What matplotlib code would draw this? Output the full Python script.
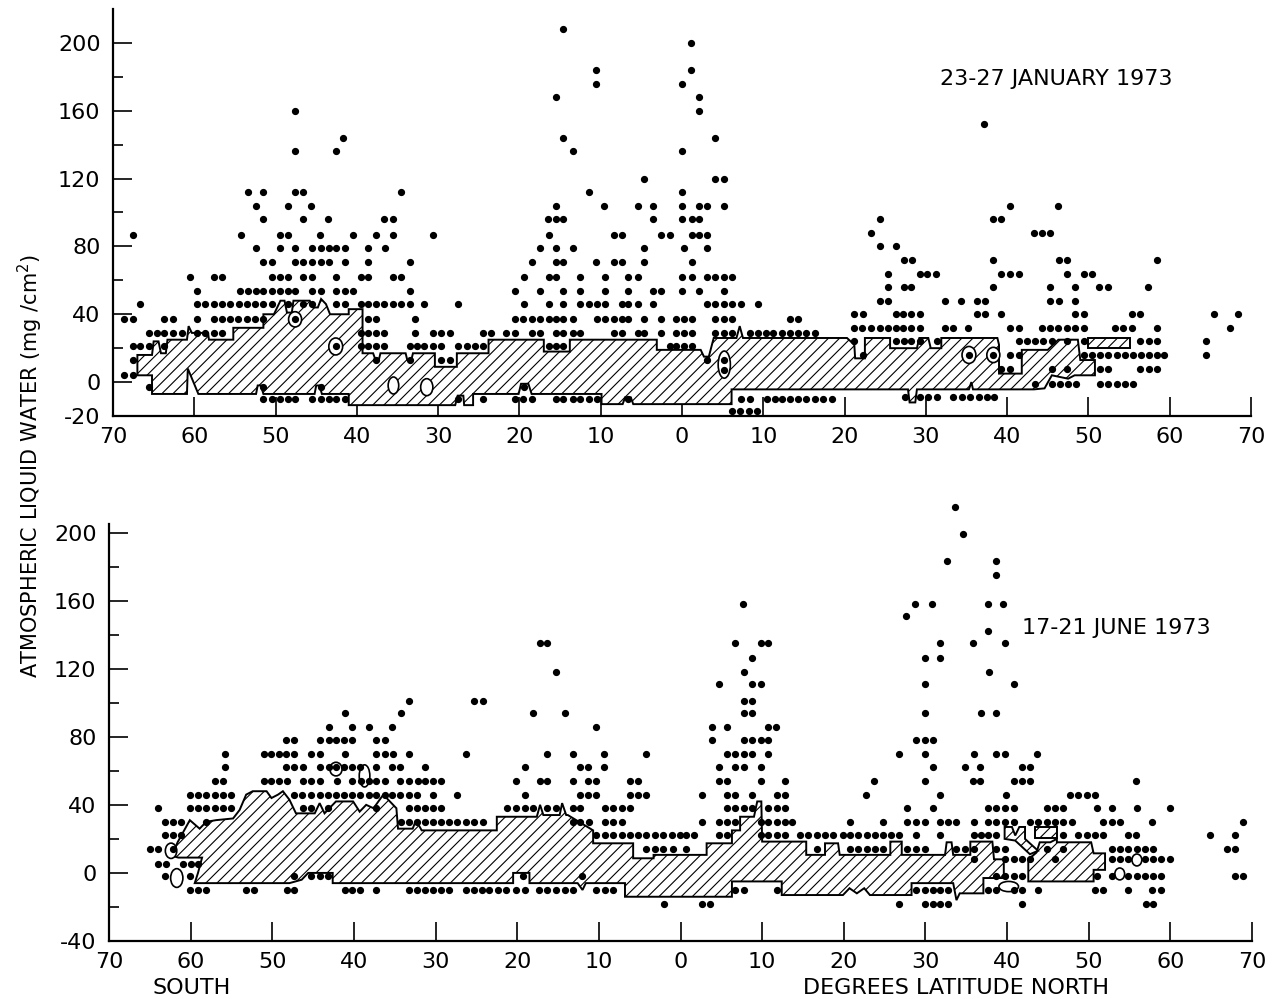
import matplotlib.pyplot as plt
from matplotlib.patches import Ellipse

plt.rcParams['font.family'] = ['DejaVu Sans']
plt.rcParams['axes.unicode_minus'] = False
plt.rcParams['hatch.linewidth'] = 0.8

# 23-27 January 1973: latitudes (south < 0) of the dots at each liquid water level (mg/cm2)
jan_rows = {
    208: [-14.7],
    200: [1.1],
    184: [-10.6, 1.1],
    176: [-10.6, 0.0],
    168: [-15.5, 2.1],
    160: [-47.6, 2.1],
    152: [37.2],
    144: [-41.7, -14.7, 4.1],
    136: [-47.6, -42.6, -13.4, 0.0],
    120: [-4.7, 4.1, 5.2],
    112: [-53.4, -51.5, -47.6, -46.6, -34.6, -11.4, 0.0],
    104: [-52.4, -48.5, -45.6, -15.5, -9.6, -5.4, -3.6, 0.0, 2.1, 3.1, 5.2, 40.3, 46.3],
    96: [-51.5, -46.6, -43.5, -36.6, -35.5, -16.5, -15.5, -14.6, -3.6, 0.0, 1.2, 2.1,
         24.3, 38.2, 39.3],
    88: [23.2, 43.3, 44.3, 45.3],
    87: [-67.6, -54.3, -49.4, -48.5, -44.5, -40.5, -37.6, -35.5, -30.6, -16.4, -8.4, -7.4,
         -2.6, -1.5, 1.2, 2.1, 3.1],
    80: [24.3, 26.3],
    79: [-52.4, -49.4, -47.6, -45.5, -44.4, -43.4, -42.6, -41.5, -38.6, -36.5, -17.5, -15.5,
         -13.4, -4.7, 0.2, 3.1],
    72: [27.3, 28.3, 38.3, 46.4, 47.4, 58.4],
    71: [-51.5, -50.5, -47.6, -46.6, -45.5, -44.4, -43.4, -41.5, -38.6, -33.5, -18.5, -15.5,
         -14.6, -10.6, -8.4, -7.4, -4.7, 1.2],
    64: [25.3, 29.3, 30.2, 31.2, 39.3, 40.3, 41.5, 47.4, 49.4, 50.5],
    62: [-60.5, -57.6, -56.6, -50.5, -49.4, -48.5, -46.6, -45.5, -42.6, -39.5, -38.6, -35.6,
         -34.6, -19.4, -16.4, -15.5, -12.5, -9.5, -6.6, -5.4, 0.0, 1.2, 3.1, 4.1, 5.2, 6.1],
    56: [25.3, 27.3, 28.2, 38.2, 45.3, 48.4, 51.3, 52.4, 57.3],
    54: [-59.7, -54.4, -53.4, -52.4, -51.5, -50.5, -49.5, -48.5, -47.6, -45.5, -44.4, -42.6,
         -41.5, -40.5, -33.5, -20.5, -17.5, -14.6, -12.5, -9.5, -6.6, -3.6, -2.6, 0.0, 2.1, 5.2],
    48: [24.3, 25.3, 32.3, 34.3, 36.3, 37.3, 45.3, 46.4, 48.4],
    46: [-66.7, -59.7, -58.7, -57.6, -56.6, -55.6, -54.5, -53.5, -52.5, -51.5, -50.5, -48.5,
         -46.6, -45.5, -42.6, -41.5, -39.5, -38.6, -37.6, -36.6, -35.6, -34.6, -33.5, -31.7,
         -27.5, -19.4, -16.4, -14.6, -12.5, -11.5, -10.5, -9.5, -7.4, -6.6, -5.4, -3.6,
         3.1, 4.1, 5.2, 6.1, 7.3, 9.4],
    40: [21.2, 22.3, 26.3, 27.2, 28.2, 29.3, 36.3, 37.3, 39.3, 48.4, 49.4, 55.3, 56.3,
         65.5, 68.4],
    37: [-68.6, -67.6, -63.7, -62.6, -59.7, -57.6, -56.6, -55.6, -54.6, -53.5, -52.5, -51.5,
         -47.6, -38.6, -37.6, -32.8, -20.5, -19.5, -18.5, -17.5, -16.4, -15.5, -14.6, -13.4,
         -10.5, -9.5, -8.4, -7.4, -6.6, -4.7, -2.6, -0.7, 0.2, 1.2, 4.1, 5.2, 6.1, 13.3, 14.3],
    32: [21.2, 22.2, 23.2, 24.3, 25.3, 26.3, 27.2, 28.2, 29.3, 32.3, 33.4, 35.2, 40.3, 41.5,
         44.3, 45.3, 46.3, 47.4, 48.4, 49.4, 53.3, 54.3, 55.3, 58.4, 67.4],
    29: [-65.6, -64.6, -63.7, -62.6, -61.5, -59.7, -58.7, -57.6, -56.6, -39.5, -38.6, -37.6,
         -36.6, -32.8, -30.6, -29.6, -28.5, -24.5, -23.5, -21.6, -20.5, -18.5, -17.5, -15.5,
         -14.6, -13.4, -12.5, -8.4, -7.4, -5.4, -4.7, -2.6, -0.7, 0.2, 1.2, 4.1, 5.2, 6.1,
         8.4, 9.4, 10.3, 11.2, 12.3, 13.3, 14.3, 15.3, 16.4],
    24: [21.2, 26.3, 27.3, 28.2, 29.3, 31.4, 41.5, 42.4, 43.4, 44.4, 45.5, 47.4, 49.4, 56.3,
         57.4, 58.4, 64.5],
    21: [-67.6, -66.7, -65.6, -63.7, -42.6, -39.5, -38.6, -37.6, -36.6, -33.5, -32.6, -31.7,
         -30.6, -29.6, -27.5, -26.5, -25.5, -24.5, -16.4, -15.5, -14.6, -1.5, -0.7, 0.2, 1.2],
    16: [22.3, 35.3, 38.3, 40.3, 41.5, 49.4, 50.4, 51.4, 52.4, 53.5, 54.5, 55.5, 56.5, 57.4,
         58.4, 59.3, 64.5],
    13: [-67.6, -37.6, -33.5, -29.6, -28.5, 3.1, 5.2],
    8: [39.3, 40.3, 45.5, 47.4, 51.4, 52.4, 56.3, 57.4, 58.4],
    7: [5.2],
    4: [-68.6, -67.6],
    -1: [43.4, 45.5, 46.5, 47.5, 48.5, 51.4, 52.4, 53.5, 54.5, 55.5],
    -3: [-65.6, -51.5, -44.4, -19.4],
    -9: [27.4, 29.3, 30.3, 31.4, 33.4, 34.4, 35.4, 36.5, 37.5, 38.4],
    -10: [-51.5, -50.5, -49.4, -48.5, -47.6, -45.5, -44.4, -43.4, -42.6, -41.5, -27.5, -24.5,
          -20.5, -19.5, -18.5, -15.5, -14.6, -13.4, -12.5, -11.5, -10.5, -6.6, 7.3, 8.4, 10.4,
          11.4, 12.3, 13.3, 14.3, 15.3, 16.4, 17.4, 18.4],
    -17: [6.1, 7.1, 8.2, 9.2],
}

# outline of the hatched median band, January (upper edge west->east, then lower edge back)
jan_band_lat = [-67.0, -67.0, -65.2, -65.0, -64.4, -64.1, -63.5, -63.3, -60.9, -60.7, -60.3,
                -58.3, -58.2, -55.2, -55.2, -51.5, -51.5, -50.2, -49.4, -48.9, -48.6, -48.0,
                -47.8, -45.8, -45.4, -44.8, -44.4, -43.8, -43.3, -41.0, -41.0, -39.3, -39.3,
                -38.0, -37.7, -37.3, -37.1, -34.0, -33.8, -33.3, -33.1, -30.4, -30.4, -27.7,
                -27.7, -23.8, -23.8, -17.0, -17.0, -13.8, -13.8, -3.1, -3.1, 2.3, 2.7, 3.3,
                3.9, 6.7, 7.1, 7.5, 20.3, 21.2, 21.3, 22.5, 22.5, 25.6, 25.6, 28.9, 29.2, 30.3,
                30.6, 31.9, 31.9, 38.8, 39.0, 39.0, 41.8, 41.8, 45.0, 46.3, 48.7, 49.0, 50.8,
                50.8,
                48.3, 47.5, 45.5, 44.6, 43.3, 35.8, 35.6, 35.3, 28.9, 28.7, 28.0, 27.8, 6.1, 6.1,
                -6.0, -6.3, -7.0, -7.3, -9.9, -9.9, -18.5, -18.9, -19.8, -20.1, -25.7, -25.7,
                -26.8, -26.9, -27.6, -27.9, -41.0, -41.0, -44.3, -44.6, -45.0, -45.2, -51.5,
                -51.8, -52.2, -52.4, -59.5, -60.8, -60.9, -65.2, -65.2]
jan_band_val = [4, 16, 16, 24, 24, 17, 17, 25, 25, 33, 29,
                29, 25, 25, 32, 32, 40, 40, 48, 48, 41, 41,
                48, 48, 44, 44, 49, 46, 40, 40, 43, 43, 17,
                17, 13, 13, 17, 17, 13, 13, 17, 17, 9, 9,
                17, 17, 25, 25, 18, 18, 25, 25, 19, 19, 15, 15,
                26, 26, 33, 26, 26, 22, 14, 14, 26, 26, 20, 20, 26, 26,
                20, 20, 26, 26, 22, 5, 5, 19, 19, 25, 25, 13, 13,
                4,
                4, 2, 4, -3.7, -4.3, -4.3, 0, -4.3, -4.3, -12, -12, -4.3, -4.3, -13,
                -13, -9, -9, -13, -13, -7, -7, -1, -1, -7, -7, -13.6,
                -13.6, -8, -8, -13.6, -13.6, -7, -7, -2, -2, -7, -7,
                -2, -2, -7, -7, 8, -7, -7, 4]
jan_box_lat = [50.0, 55.1, 55.1, 50.0]
jan_box_val = [20, 20, 26, 26]
# small open rings: centre lat, centre value, width (deg), height (mg/cm2)
jan_rings = [(-42.6, 21, 1.7, 10), (-47.6, 37, 1.6, 9), (-35.5, -2, 1.3, 10),
             (-31.4, -3, 1.5, 10), (5.2, 10.3, 1.5, 16), (35.3, 16, 1.7, 10),
             (38.3, 16, 1.6, 9)]

# 17-21 June 1973
jun_rows = {
    215: [33.6],
    199: [34.6],
    183: [32.7, 38.7],
    175: [38.7],
    158: [7.7, 28.7, 30.8, 37.7, 39.5],
    151: [27.6],
    142: [37.7],
    135: [-17.2, -16.4, 6.7, 9.8, 10.7, 31.8, 35.8, 39.7],
    126: [8.8, 29.9, 31.8],
    118: [-15.3, 7.8, 37.8],
    111: [4.7, 8.8, 9.8, 29.9, 40.8],
    101: [-33.3, -25.3, -24.2, 7.8, 8.8],
    94: [-41.1, -34.2, -18.1, -14.2, 7.8, 8.8, 29.9, 36.8, 38.7],
    86: [-43.1, -40.2, -38.2, -35.3, -10.4, 3.8, 5.7, 10.7, 11.7],
    78: [-48.3, -47.3, -44.1, -43.1, -42.2, -41.2, -40.2, -37.3, -36.2, 3.8, 7.8, 8.8, 9.8,
         10.7, 28.8, 29.9, 30.9],
    70: [-55.8, -51.0, -50.1, -49.2, -48.3, -47.3, -45.2, -44.2, -41.1, -37.3, -36.2, -35.2,
         -33.3, -26.3, -16.4, -13.2, -9.4, -4.2, 5.7, 6.7, 7.8, 8.8, 10.7, 26.8, 29.9, 35.9,
         38.7, 39.7, 43.7],
    62: [-55.8, -48.3, -47.3, -46.2, -44.2, -43.1, -42.2, -41.2, -40.2, -39.2, -37.3, -35.3,
         -34.3, -31.3, -19.0, -12.3, -11.3, -9.4, 4.7, 6.7, 7.8, 9.8, 30.9, 34.8, 36.7, 41.8,
         42.8],
    54: [-57.0, -56.0, -51.0, -50.1, -49.2, -48.2, -46.2, -45.2, -44.2, -42.1, -40.2, -39.1,
         -38.1, -37.3, -36.2, -34.3, -33.3, -32.2, -31.3, -30.3, -29.3, -20.1, -17.2, -16.3,
         -13.2, -11.3, -10.3, -6.2, -5.2, 4.7, 5.7, 9.8, 12.8, 23.7, 29.9, 35.8, 36.7, 40.8,
         41.8, 42.8, 55.8],
    46: [-60.1, -59.1, -58.1, -57.0, -56.0, -55.0, -47.3, -46.3, -45.2, -44.2, -43.2, -42.2,
         -41.2, -40.2, -39.2, -38.2, -37.3, -36.2, -35.3, -34.3, -33.3, -32.3, -30.3, -27.4,
         -19.0, -12.3, -11.3, -10.3, -6.2, -5.2, -4.2, 2.6, 5.7, 6.7, 8.8, 11.8, 12.8, 22.7,
         31.8, 39.9, 47.7, 48.7, 49.8, 50.8],
    38: [-64.0, -60.1, -59.1, -58.1, -57.0, -56.0, -55.0, -46.2, -45.2, -43.2, -37.3, -33.3,
         -32.3, -31.3, -30.3, -29.3, -21.3, -20.1, -19.1, -18.1, -16.3, -15.3, -13.2, -12.3,
         -9.3, -8.3, -7.2, -6.2, 5.7, 6.7, 7.8, 8.8, 10.7, 11.8, 12.8, 27.7, 30.9, 37.7, 38.7,
         39.7, 40.8, 44.9, 45.9, 46.9, 51.0, 52.8, 55.9, 59.9],
    30: [-63.1, -62.2, -61.2, -58.1, -34.2, -33.3, -32.3, -31.3, -30.3, -29.3, -28.3, -27.4,
         -26.3, -25.3, -24.2, -13.2, -12.3, -11.2, -9.3, -8.3, -7.2, 2.6, 4.7, 5.7, 6.7, 9.8,
         10.7, 11.8, 12.8, 13.7, 20.8, 24.8, 27.7, 28.8, 29.9, 31.8, 32.8, 33.8, 35.9, 37.7,
         38.7, 39.7, 40.8, 42.8, 43.8, 44.9, 45.9, 46.9, 47.9, 51.8, 52.8, 53.8, 57.8, 68.9],
    22: [-63.1, -62.2, -61.2, -10.3, -9.3, -8.3, -7.2, -6.2, -5.2, -4.2, -3.1, -2.1, -1.1,
         -0.1, 0.7, 1.6, 4.7, 5.7, 9.8, 10.7, 11.8, 12.8, 14.6, 15.6, 16.7, 17.7, 18.7, 19.9,
         20.8, 21.8, 22.8, 23.8, 24.8, 25.8, 26.8, 28.8, 31.8, 35.9, 36.8, 37.7, 38.7, 46.9,
         48.7, 49.8, 50.8, 51.8, 54.8, 55.8, 64.9, 67.9],
    14: [-65.0, -64.0, -62.2, -4.2, -3.1, -2.1, -0.9, 0.7, 16.7, 20.8, 21.8, 22.8, 23.8, 24.8,
         27.8, 28.8, 29.9, 33.8, 34.9, 35.9, 38.7, 39.7, 44.9, 46.9, 52.8, 53.8, 54.8, 55.9,
         56.9, 57.9, 66.9, 67.9],
    8: [35.9, 39.7, 40.8, 41.8, 42.8, 45.9, 52.8, 53.8, 54.8, 56.9, 57.9, 58.9, 59.9],
    5: [-64.0, -63.0, -60.9, -59.9, -59.1],
    -2: [-63.1, -60.1, -47.3, -45.2, -44.2, -43.2, -19.3, -12.1, 38.7, 39.7, 40.8, 41.8, 51.0,
         52.8, 54.8, 55.9, 56.9, 57.9, 58.9, 67.9, 68.9],
    -10: [-60.1, -59.1, -58.1, -53.2, -52.2, -48.2, -47.3, -41.1, -40.2, -39.2, -37.3, -33.3,
          -32.3, -31.3, -30.3, -29.3, -28.3, -26.3, -25.3, -24.3, -23.4, -22.4, -21.4, -20.2,
          -19.1, -17.3, -16.3, -15.3, -14.2, -13.2, -10.3, -9.3, -8.3, 6.7, 7.8, 11.8, 28.8,
          29.9, 30.9, 31.8, 32.8, 37.7, 38.7, 40.8, 41.8, 43.8, 50.8, 51.8, 54.8, 57.8, 58.9],
    -18: [-2.0, 2.6, 3.6, 26.8, 29.9, 30.9, 31.8, 32.8, 41.8, 57.0, 57.9],
}

jun_band_lat = [-62.3, -61.6, -60.1, -58.9, -58.1, -56.9, -54.8, -54.0, -53.2, -52.4, -50.7,
                -50.1, -49.3, -48.7, -47.9, -47.1, -44.8, -44.2, -43.6, -42.2, -40.1, -39.3,
                -38.5, -37.6, -36.4, -34.8, -34.6, -32.8, -32.4, -31.7, -22.5, -22.5, -17.6,
                -17.2, -16.8, -14.8, -14.5, -14.0, -13.8, -10.7, -10.7, -5.8, -5.8, -3.3, -3.3,
                3.2, 3.2, 6.3, 6.3, 7.3, 7.3, 9.0, 9.4, 9.9, 10.0, 15.4, 15.4, 17.7, 17.7, 19.3,
                19.5, 25.7, 25.7, 27.1, 27.1, 32.4, 32.6, 33.2, 33.4, 35.5, 35.5, 38.2, 38.4,
                39.6,
                39.6, 37.1, 37.1, 34.2, 33.8, 33.4, 28.3, 28.3, 23.2, 22.5, 21.6, 20.7, 19.9,
                12.4, 12.4, 6.3, 6.3, -6.8, -6.8, -11.6, -12.0, -12.6, -18.5, -18.5, -20.5,
                -20.5, -42.6, -42.6, -45.6, -46.4, -47.9, -59.5, -59.1, -58.6, -61.5]
jun_band_val = [10, 18, 31, 26, 30, 31, 32, 37, 46, 48, 48,
                44, 46, 48, 43, 35, 35, 41, 35, 42, 42, 36,
                40, 38, 46, 38, 26, 26, 31, 25, 25, 33, 33,
                40, 34, 34, 41, 34, 34, 25, 17.4, 17.4, 8.6, 8.6, 10.6,
                10.6, 17.4, 17.4, 25, 25, 33, 33, 42, 42, 18.4, 18.4, 10.6, 10.6, 17.4, 17.4,
                10.6, 10.6, 18.4, 18.4, 10.6, 10.6, 18, 18, 10.6, 10.6, 18.4, 18.4, 8,
                8,
                -3, -3, -12, -12, -16, -6, -6, -13, -13, -9, -12, -9, -13,
                -13, -5, -5, -14, -14, -6, -6, -10, -6, -6, 0, 0,
                -6, -6, 0, 0, -4, -6, -6, 0, 9, 9]
jun_blob_b_lat = [42.6, 42.6, 43.6, 44.0, 45.3, 46.1, 46.1, 50.3, 50.6, 52.0, 52.0, 50.6, 50.6]
jun_blob_b_val = [-5, 8, 12, 18, 18, 20, 18, 18, 11.5, 11.5, 1.8, 1.8, -5]
jun_blob_c_lat = [39.7, 40.6, 41.0, 41.5, 42.2, 42.2, 43.8, 42.8, 41.0, 39.7]
jun_blob_c_val = [27, 27, 22, 27, 27, 20, 13, 11, 19, 20]
jun_box_lat = [43.4, 46.1, 46.1, 43.4]
jun_box_val = [20.3, 20.3, 27.2, 27.2]
jun_rings = [(-42.2, 61, 1.5, 8), (-38.7, 57, 1.3, 13), (40.2, -8, 2.4, 6),
             (53.8, -0.6, 1.2, 7), (55.9, 7.6, 1.2, 7), (-61.7, -3, 1.5, 11),
             (-62.4, 13, 1.4, 9)]

x_ticks = list(range(-70, 71, 10))
x_labels = [str(abs(t)) for t in x_ticks]


def panel(ax, rows, bands, rings, ymin, ymax, majors, minors):
    for val, lats in rows.items():
        ax.plot(lats, [val] * len(lats), 'o', color='black', ms=4.2, zorder=4, clip_on=False)
    for lat, val in bands:
        ax.fill(lat, val, facecolor='white', edgecolor='black', hatch='///', linewidth=1.4,
                zorder=2)
    for lat, val, w, h in rings:
        ax.add_patch(Ellipse((lat, val), w, h, facecolor='white',
                             edgecolor='black', linewidth=1.2, zorder=3))
    ax.set_xlim(-70, 70)
    ax.set_ylim(ymin, ymax)
    ax.set_xticks(x_ticks)
    ax.set_xticklabels(x_labels)
    ax.set_yticks(majors)
    ax.set_yticks(minors, minor=True)
    ax.spines['top'].set_visible(False)
    ax.spines['right'].set_visible(False)
    ax.spines['left'].set_linewidth(1.6)
    ax.spines['bottom'].set_linewidth(1.6)
    ax.tick_params(which='major', direction='in', length=14, width=1.2, labelsize=16)
    ax.tick_params(which='minor', direction='in', length=7, width=1.2)
    ax.tick_params(axis='x', pad=8)
    ax.tick_params(axis='y', pad=9)


fig = plt.figure(figsize=(12.78, 9.99), dpi=100)
ax1 = fig.add_axes([113 / 1278, 1 - 416 / 999, 1138 / 1278, 407 / 999])
ax2 = fig.add_axes([109 / 1278, 1 - 941 / 999, 1143 / 1278, 417 / 999])

panel(ax1, jan_rows, [(jan_band_lat, jan_band_val), (jan_box_lat, jan_box_val)], jan_rings,
      -20, 220, [-20, 0, 40, 80, 120, 160, 200], [20, 60, 100, 140, 180])
panel(ax2, jun_rows, [(jun_band_lat, jun_band_val), (jun_blob_b_lat, jun_blob_b_val),
                      (jun_blob_c_lat, jun_blob_c_val), (jun_box_lat, jun_box_val)], jun_rings,
      -40, 205, [-40, 0, 40, 80, 120, 160, 200], [-20, 20, 60, 100, 140, 180])

fig.text(940 / 1278, 1 - 79 / 999, '23-27 JANUARY 1973', ha='left', va='center', fontsize=16)
fig.text(1022 / 1278, 1 - 628 / 999, '17-21 JUNE 1973', ha='left', va='center', fontsize=16)
fig.text(30 / 1278, 1 - 466 / 999, 'ATMOSPHERIC LIQUID WATER (mg /cm$^2$)', rotation=90,
         ha='center', va='center', fontsize=15)
fig.text(153 / 1278, 1 - 988 / 999, 'SOUTH', ha='left', va='center', fontsize=16)
fig.text(803 / 1278, 1 - 988 / 999, 'DEGREES LATITUDE NORTH', ha='left', va='center',
         fontsize=16)

fig.savefig('out.png', dpi=100)
